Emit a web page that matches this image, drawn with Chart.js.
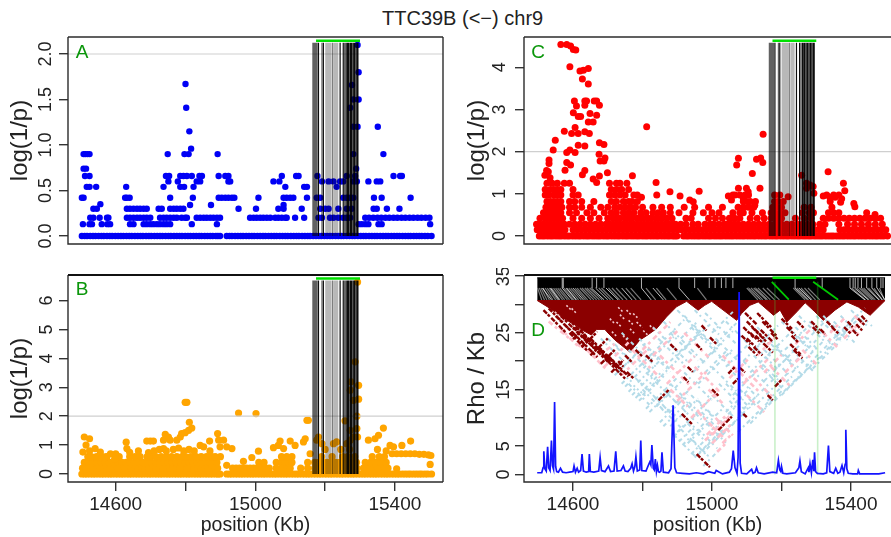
<!DOCTYPE html>
<html>
<head>
<meta charset="utf-8">
<title>TTC39B (<−) chr9</title>
<script src="https://cdn.jsdelivr.net/npm/chart.js@4/dist/chart.umd.min.js"></script>
<style>
html, body { margin: 0; padding: 0; background: #fff; width: 891px; height: 537px; overflow: hidden; }
canvas { position: absolute; filter: blur(0.4px); }
#title { position: absolute; left: 382px; top: 7px; font: 20px "Liberation Sans", Arial, sans-serif; color: #222; white-space: nowrap; }
</style>
</head>
<body>
<div id="title">TTC39B (&lt;−) chr9</div>
<canvas id="panelB" width="450" height="269" style="left:0;top:268px"></canvas>
<canvas id="panelD" width="441" height="269" style="left:450px;top:268px"></canvas>
<canvas id="panelA" width="450" height="226" style="left:0;top:30px"></canvas>
<canvas id="panelC" width="441" height="226" style="left:450px;top:30px"></canvas>
<script>
// tick labels
const xTicks = [14600, 14800, 15000, 15200, 15400];
const xLabelled = [14600, 15000, 15400];
const yTicksA = [0, 0.5, 1, 1.5, 2];
const yTicksB = [0, 1, 2, 3, 4, 5, 6];
const yTicksC = [0, 1, 2, 3, 4];
const yTicksD = [0, 5, 10, 15, 20, 25, 30, 35];
const yLabelledD = [0, 5, 15, 25, 35];
const threshold = 2;

// snp positions along the bottom row of A, B and C
const baseRow = [14503,14511,14518,14527,14535,14542,14551,14559,14566,14575,14583,14590,14599,14607,14615,14622,14631,14639,14646,14655,14663,14671,14678,14687,14695,14702,14711,14719,14727,14734,14743,14751,14758,14767,14775,14783,14790,14799,14807,14814,14823,14831,14839,14846,14855,14863,14871,14878,14887,14893,14899,14918,14926,14933,14942,14950,14958,14965,14974,14982,14990,14997,15006,15014,15022,15029,15038,15046,15054,15061,15070,15078,15086,15093,15102,15110,15118,15125,15134,15142,15150,15157,15166,15174,15182,15189,15198,15206,15214,15221,15230,15238,15246,15253,15262,15270,15278,15285,15294,15302,15310,15317,15326,15334,15342,15349,15358,15366,15374,15381,15390,15398,15406,15413,15422,15430,15438,15445,15454,15462,15470,15477,15486,15494,15505];

// panel A
const levelsA = [0.13, 0.2, 0.3, 0.42, 0.54, 0.6, 0.66, 0.74, 0.9];
const rowsA = [
  [14506,14525,14532,14560,14576,14584,14641,14651,14680,14689,14699,14708,14718,14727,14737,14746,14756,14818,14890,15296,15305,15315,15324,15353,15362,15501],
  [14527,14536,14554,14575,14579,14632,14641,14651,14661,14670,14680,14689,14699,14727,14737,14746,14756,14766,14775,14789,14799,14804,14832,14842,14852,14861,14871,14880,14890,14899,14985,14995,15004,15014,15023,15033,15043,15057,15066,15076,15086,15090,15114,15140,15181,15191,15214,15224,15238,15252,15262,15272,15315,15326,15338,15350,15361,15373,15384,15396,15407,15419,15430,15442,15453,15465,15476,15488,15499],
  [14536,14546,14632,14641,14651,14661,14670,14680,14689,14723,14732,14756,14766,14775,14785,14794,14952,15002,15066,15081,15133,15186,15200,15210,15238,15262,15276,15339,15348,15377,15413],
  [14503,14508,14627,14632,14640,14756,14821,14895,14904,14914,14923,14933,14940,15009,15081,15090,15100,15109,15148,15176,15186,15252,15262,15272,15281,15340,15362,15445],
  [14517,14525,14544,14630,14737,14785,14796,14823,15086,15140,15148,15233],
  [14751,14778,14832,14842,14923,14928,15052,15069,15191,15210,15224,15243,15252,15281,15291,15324,15348,15358],
  [14512,14525,14744,14753,14785,14794,14804,14818,14840,14847,14895,14914,14923,15076,15117,15124,15178,15262,15286,15396,15415,15420],
  [14508,14515,15289],
  [14508,14513,14519,14525,14749,14797,14809,14892,15281,15367]
];
const peaksA = [[14800,1.67],[14802,1.41],[14811,1.15],[14816,0.96],[15351,1.2],[15293,2.1],[15296,1.8],[15277,1.66],[15296,1.5],[15281,1.5],[15272,1.41],[15281,1.2],[15293,1.2],[14813,0.34],[14556,0.35],[15081,0.34],[14873,0.34]];

// panel B
const levelsB = [0.2, 0.4, 0.6];
const rowsB = [
  [14505,14515,14525,14535,14545,14555,14565,14575,14585,14595,14605,14615,14625,14635,14645,14655,14665,14675,14685,14695,14705,14715,14725,14735,14745,14755,14765,14775,14785,14795,14805,14815,14825,14835,14845,14855,14865,14875,14885,14892,14935,14945,14955,14965,14975,14985,14995,15005,15020,15030,15040,15060,15075,15090,15100,15130,15150,15170,15181,15192,15203,15214,15225,15236,15247,15258,15269,15280,15291,15310,15320,15330,15340,15350,15360,15370,15380],
  [14510,14522,14534,14546,14558,14570,14582,14594,14606,14618,14630,14642,14654,14666,14678,14690,14702,14714,14726,14738,14750,14762,14774,14786,14798,14810,14822,14834,14846,14858,14870,14882,14890,15010,15025,15060,15075,15085,15095,15105,15150,15170,15182,15194,15206,15218,15230,15242,15254,15266,15278,15290,15315,15330,15345,15360,15375],
  [14520,14530,14545,14560,14575,14610,14640,14655,14670,14690,14700,14715,14730,14745,14760,14775,14790,14800,14815,14830,14845,14860,14875,14885,14900,15075,15090,15105,15190,15220,15250,15265,15285,15335,15355,15370]
];
const upperB = [[14506,0.76],[14510,1.28],[14525,1.22],[14515,1],[14541,0.88],[14556,0.76],[14570,0.59],[14597,0.53],[14630,1.1],[14632,0.88],[14689,1.14],[14699,1.14],[14708,1.14],[14694,0.74],[14737,1.17],[14756,1.17],[14742,1.37],[14751,1.28],[14737,0.88],[14775,1.17],[14785,1.28],[14789,1.4],[14799,1.43],[14809,1.51],[14818,1.59],[14811,1.79],[14799,2.48],[14804,2.48],[14842,0.99],[14852,0.94],[14869,1.14],[14892,1.4],[14895,1.17],[14909,1.17],[14899,0.94],[14918,0.94],[14933,0.88],[14918,0.3],[14966,0.44],[14952,2.11],[15002,2.09],[15009,0.79],[14990,0.57],[15052,0.91],[15071,1.14],[15066,0.99],[15100,1.14],[15081,0.88],[15114,0.99],[15138,1.11],[15143,1.22],[15148,1.86],[15152,1.86],[15181,1.28],[15176,1.17],[15157,0.7],[15324,1.17],[15343,1.22],[15353,1.34],[15367,1.59],[15386,0.99],[15396,0.94],[15420,0.99],[15445,1.14],[15405,0.18],[15501,0.33],[15286,3.88],[15274,3.19],[15296,3.07],[15272,2.9],[15296,2.59],[15281,2.55],[15257,1.84],[15291,2],[15291,1.57],[15272,1.51],[15281,1.28],[15293,1.28],[15293,6.64],[15224,1.05],[15233,1.11],[15191,1.05],[15262,1.05],[15272,1.17],
  [14525,0.8],[14585,0.7],[14600,0.7],[14640,0.75],[14665,0.8],[14710,0.8],[14725,0.85],[14745,0.8],[14765,0.85],[14780,0.9],[14795,0.8],[14810,0.85],[14825,0.8],[14870,0.8],[15200,0.85],[15245,0.85],[15270,0.85],[15350,0.85],[15375,0.8],
  [15392,0.7],[15405,0.7],[15418,0.7],[15431,0.7],[15444,0.7],[15457,0.7],[15470,0.68],[15483,0.68],[15496,0.66],[15503,0.64]];

// panel C
const levelsC = [0.15, 0.28, 0.42, 0.55, 0.68, 0.82, 0.97, 1.1, 1.25];
const rowsC = [
  [14497,14507,14517,14527,14537,14547,14557,14567,14577,14600,14612,14624,14636,14648,14660,14672,14684,14696,14708,14720,14732,14744,14756,14768,14780,14792,14804,14816,14828,14840,14852,14864,14876,14888,14900,14912,14924,14936,14948,14960,14972,14984,14996,15008,15020,15032,15044,15056,15068,15080,15092,15104,15116,15128,15140,15152,15164,15176,15188,15200,15212,15224,15236,15248,15260,15272,15284,15296,15308,15320,15368,15380,15392,15404,15416,15428,15440,15452,15464,15476,15488,15500],
  [14495,14505,14515,14525,14535,14545,14555,14565,14575,14590,14605,14620,14635,14650,14665,14680,14695,14705,14715,14725,14735,14745,14755,14765,14775,14785,14795,14805,14815,14825,14835,14845,14855,14865,14875,14885,14895,14910,14925,14945,14960,14980,14995,15005,15020,15035,15045,15055,15065,15075,15090,15105,15120,15135,15150,15165,15180,15190,15200,15215,15230,15245,15260,15275,15290,15310,15325,15365,15390,15410,15430,15450,15470,15490],
  [14505,14520,14530,14540,14550,14560,14570,14600,14625,14650,14675,14700,14715,14725,14735,14750,14760,14770,14785,14800,14815,14825,14840,14855,14870,14885,14925,14940,14990,15010,15030,15050,15065,15080,15110,15130,15150,15170,15185,15200,15240,15265,15285,15320,15335,15350,15365,15380,15395,15410,15425,15440,15455,15470,15485],
  [14515,14525,14535,14545,14555,14565,14590,14610,14640,14660,14690,14710,14725,14745,14760,14775,14795,14810,14830,14845,14860,14880,14905,14945,14975,15000,15020,15060,15080,15090,15115,15145,15170,15180,15195,15210,15260,15280,15292,15335,15350,15365],
  [14522,14530,14540,14550,14560,14568,14590,14605,14625,14650,14680,14700,14720,14735,14750,14765,14780,14800,14830,14855,14880,14920,14950,14990,15030,15075,15090,15105,15120,15175,15185,15200,15265,15285,15345],
  [14525,14535,14545,14555,14565,14590,14605,14625,14660,14710,14725,14745,14760,14770,14785,15090,15100,15110,15125,15180,15190,15205,15340],
  [14520,14530,14545,14555,14565,14600,14615,14705,14720,14735,14750,14775,14785,15060,15080,15095,15105,15180,15195,15330,15350,15365],
  [14520,14535,14545,14555,14565,14600,14710,14725,14740,14760],
  [14525,14540,14555,14575,14590,14705,14725,14735,14755]
];
const upperC = [[14565,4.54],[14582,4.54],[14593,4.5],[14601,4.42],[14608,4.41],[14591,4.01],[14620,3.91],[14630,3.93],[14644,3.97],[14627,3.72],[14644,3.6],[14604,3.2],[14610,3.08],[14634,3.2],[14639,3.2],[14634,3.1],[14661,3.2],[14668,3.2],[14676,3.1],[14601,2.92],[14615,2.83],[14622,2.83],[14649,2.9],[14668,2.86],[14644,2.7],[14658,2.7],[14606,2.57],[14575,2.48],[14596,2.43],[14615,2.43],[14634,2.47],[14647,2.43],[14812,2.59],[15147,2.41],[14549,2.27],[14676,2.21],[14689,2.17],[14615,2.15],[14634,2.13],[14543,2.04],[14582,1.98],[14606,1.98],[14591,2.04],[14675,1.94],[14531,1.8],[14531,1.72],[14582,1.74],[14593,1.68],[14577,1.56],[14692,1.85],[14678,1.78],[14689,1.78],[15076,1.84],[15071,1.68],[15128,1.82],[15140,1.85],[15146,1.74],[15116,1.48],[15334,1.52],[15258,1.44],[14699,1.5],[14771,1.43],[14676,1.42],[14634,1.55],[14627,1.45],[14658,1.35],[14668,1.27],[14524,1.55],[14519,1.44],[14529,1.52],[14534,1.38],[14839,1.27],[15378,1.25],[15272,1.25],[15282,1.21],[15291,1.17],[15382,1.07],[15408,0.77],[15411,0.69],[15445,0.55],[15469,0.51],[15219,0.93],[14879,1.05],[14841,0.97],[14963,1.06],[15076,1.13],[15099,1.13],[15104,1.05],[15138,1.13],[15293,1.01],[15272,1.13],[14908,0.95],[14936,0.85],[14946,0.81],[14797,0.92],[15047,0.95],[15066,0.97],[15056,0.85],[15090,0.89],[15123,0.73],[15320,0.95],[15339,0.92],[15354,0.92],[15373,0.88],[15370,0.8]];

// recombination rate, panel D
const rhoX = [14497,14510,14514,14516,14519,14523,14527,14530,14534,14538,14541,14544,14547,14550,14553,14558,14564,14570,14580,14590,14600,14603,14607,14612,14616,14622,14626,14630,14638,14645,14647,14650,14660,14674,14678,14682,14692,14702,14708,14718,14723,14727,14738,14745,14750,14758,14766,14770,14774,14778,14781,14785,14792,14795,14798,14810,14818,14821,14824,14827,14831,14834,14837,14840,14843,14846,14849,14853,14856,14860,14875,14882,14888,14893,14898,14915,14935,14955,14975,14990,15008,15012,15030,15050,15056,15061,15066,15072,15075,15078,15081,15085,15100,15114,15118,15124,15128,15133,15150,15175,15186,15191,15195,15198,15200,15204,15215,15240,15250,15253,15257,15268,15277,15279,15282,15286,15290,15293,15295,15298,15303,15320,15330,15335,15339,15350,15356,15362,15368,15374,15379,15383,15385,15388,15392,15405,15419,15421,15425,15450,15480,15498];
const rhoY = [0.3,0.3,1.2,4.1,1,0.6,4.9,1.2,0.7,6,1.5,0.9,12.8,1.4,0.5,0.4,1.1,0.4,0.3,0.4,0.5,1.5,0.4,1.1,0.4,0.7,3.6,0.6,0.4,0.5,3.6,0.5,0.4,0.6,3,0.7,0.5,1.5,0.5,0.6,4.1,0.6,0.7,1.5,0.6,0.5,1.1,1.9,0.6,1.4,3.1,0.6,0.8,6,0.7,0.6,1.8,2.2,1.7,5.2,1.1,0.8,2.7,0.5,1.6,0.5,0.4,0.6,3.9,0.4,0.3,1,12.2,1.2,0.3,0.2,0.1,0.3,0.1,0.5,0.2,0.7,0.1,0.4,1,4.2,1.2,0.2,3,32.2,2,0.2,0.1,0.9,0.2,0.4,1.2,0.3,0.1,0.4,0.3,2.5,0.8,0.5,1.4,0.2,0.1,0.3,1.2,2.4,0.5,0.1,1.2,0.4,1.9,0.3,2.6,0.6,3.9,0.5,0.2,0.1,0.3,5.1,0.5,0.2,1.1,0.2,0.4,1.6,0.3,1.8,7.9,1,0.2,0.1,0.1,0.7,0.1,0.1,0.1,0.3];

// outline of the solid red part of the LD triangle
const ldSolidX = [14497,14534,14572,14605,14629,14653,14668,14692,14697,14721,14764,14792,14812,14840,14869,14898,14927,14960,14979,14999,15071,15085,15109,15133,15177,15196,15215,15244,15268,15296,15320,15354,15388,15421,15455,15498];
const ldSolidY = [30.7,29.3,27.6,26.4,25.4,24.6,25.6,25.6,25.2,23.7,21.6,23.7,24.5,25.7,27.8,29.6,30.55,29,29.85,30.55,27.2,28.4,29.85,30.45,28.1,29,26.9,28.7,30.3,28.7,27.2,29,30.45,29.55,28.1,30.7];
const ldTop = 30.8;

// LD cells, as diagonal runs [x1, y1, x2, y2]
const ldBlue = [[14720,17.5,14800,22.4],[14740,16,14830,21.5],[14760,14.6,14850,20.1],[14780,13.5,14860,18.4],[14800,14,14900,20.2],[14810,11.6,14900,17.1],[14840,12,14920,16.9],[14870,11,14960,16.5],[14880,8.5,14960,13.4],[14900,7.5,15000,13.6],[14915,5.2,14990,9.8],[14930,5.5,15030,11.6],[14960,3.5,15040,8.4],[14960,16,15060,22.1],[14880,20,14980,26.1],[14850,23,14920,27.3],[14910,24,14960,27.1],[14990,21,15060,25.3],[15020,9,15090,13.3],[15040,11,15110,15.3],[15060,14,15150,19.5],[15090,11.5,15190,17.6],[15110,9,15170,12.7],[15130,12.5,15220,18],[15150,16.5,15230,21.4],[15180,13,15250,17.3],[15230,18,15320,23.5],[15270,19,15340,23.3],[15290,18.7,15370,23.6],[15310,20.5,15390,25.4],[15120,22,15190,26.3],[15160,21,15240,25.9],[15210,22,15280,26.3],[15260,23,15330,27.3],[15350,24,15410,27.7],[15380,25,15430,28],[15000,25,15060,28.7],[15040,19,15110,23.3],
  [14700,24,14780,19.1],[14740,25,14840,18.9],[14790,24,14880,18.5],[14830,26,14930,19.9],[14860,27,14980,19.6],[14900,29,15010,22.2],[14940,26,15050,19.2],[14980,28.5,15070,23],[14780,17,14880,10.9],[14810,18,14900,12.5],[14860,15,14950,9.5],[14880,16,14980,9.9],[14920,18,15000,13.1],[14960,13,15030,8.7],[14910,8,14990,3.1],[14890,7,14950,3.3],[14930,9,14980,5.9],[15000,19,15070,14.7],[15020,16,15090,11.7],[15060,18,15130,13.7],[15050,13,15100,9.9],[15100,24,15190,18.5],[15130,26,15230,19.9],[15140,19,15210,14.7],[15170,23,15260,17.5],[15220,26,15290,21.7],[15250,28,15330,23.1],[15300,28,15370,23.7],[15350,27,15410,23.3],[15400,29,15450,26],[15430,28,15460,26.2],[15230,22,15290,18.3],
  [14730,18,14790,21.7],[14750,15.5,14810,19.2],[14770,14,14830,17.7],[14790,13,14870,17.9],[14820,11,14880,14.7],[14850,9.2,14930,14.1],[14860,8.5,14930,12.8],[14890,6.7,14970,11.6],[14905,5.8,14960,9.2],[14940,3.6,15000,7.3],[14950,3,15010,6.7],[14975,1.5,15020,4.3],[14985,4.5,15030,7.3],[15010,6,15060,9.1],[15030,7,15090,10.7],[15060,9,15120,12.7],[15075,7.5,15130,10.9],[15100,9,15180,13.9],[15140,11,15200,14.7],[15160,13,15230,17.3],[15200,14,15270,18.3],[15215,15,15290,19.6],[15250,17,15310,20.7],[15330,22,15400,26.3],[15360,24.5,15440,29.4],[14900,21,14960,24.7],[14920,22,14990,26.3],[14945,18,15020,22.6],[14980,18,15040,21.7],[15010,23,15070,26.7],[15090,20,15150,23.7],[15110,18,15170,21.7],[15190,19,15250,22.7],[15240,20,15300,23.7],[14820,20,14890,24.3],[14790,19,14850,22.7],
  [14680,24,14740,20.3],[14720,23,14770,19.9],[14760,22,14830,17.7],[14800,23,14880,18.1],[14845,24,14920,19.4],[14880,25,14960,20.1],[14920,28,15000,23.1],[14950,29,15020,24.7],[14760,16,14820,12.3],[14800,15,14860,11.3],[14830,14,14900,9.7],[14850,12,14910,8.3],[14900,14,14970,9.7],[14940,14,15000,10.3],[14970,11,15030,7.3],[14985,9,15040,5.6],[14945,6,14995,2.9],[14960,8,15015,4.6],[15000,14,15060,10.3],[15040,16,15110,11.7],[15080,15,15130,11.9],[15090,20,15160,15.7],[15120,21,15190,16.7],[15150,22,15220,17.7],[15190,22,15240,18.9],[15200,27,15270,22.7],[15240,26,15300,22.3],[15280,27,15340,23.3],[15320,28,15390,23.7],[15370,28,15420,24.9],[15010,24,15080,19.7],[15040,27,15110,22.7]];
const ldPink = [[14690,19,14760,23.3],[14740,17.5,14820,22.4],[14800,22,14880,26.9],[14830,21,14900,25.3],[14870,16,14950,20.9],[14900,13,14990,18.5],[14940,10,15020,14.9],[14980,6,15050,10.3],[14985,7,15040,10.4],[15000,5.5,15060,9.2],[15015,4,15040,5.5],[15050,17,15110,20.7],[15090,16,15160,20.3],[15150,18,15200,21.1],[15210,18,15260,21],[15240,23,15290,26],[15130,21,15190,24.7],[15380,24,15420,26.5],[15340,25,15380,27.5],
  [14640,22,14700,18.3],[14770,22,14850,17.1],[14850,21,14940,15.5],[14950,19,15020,14.7],[14960,11,15040,6.1],[15010,10,15060,6.9],[15030,21,15090,17.3],[15080,18,15140,14.3],[15170,19,15230,15.3],[15260,22,15300,19.5],[15320,25,15360,22.5],[15400,26,15430,24.2],[15410,28,15440,26.2],[14920,25,14990,20.7],
  [14530,27,14590,24],[14560,26,14620,22.3],[14610,23,14670,21],[14660,20.5,14720,23],[14880,15,14930,12],[14990,15,15030,12.6],[15000,7,15040,9.5],[15030,5.5,15060,7.3],[15100,14,15150,11],[15120,17,15180,13.3]];
const ldSpeck = [[14706,27.5,14720,26.6],[14730,29.5,14745,28.6],[14754,29,14770,28],[14773,28.4,14790,27.4],[14783,26.9,14800,25.9],[14764,25.7,14780,24.7],[14725,26.9,14740,26],[14802,25.4,14815,24.6],[14744,24.5,14758,23.6],[14581,29.85,14595,29],[14596,29.3,14612,28.3],[14548,28.7,14560,28],[14562,27.8,14578,26.8],[14821,26.3,14833,25.6],[14735,28.2,14748,27.4],[14760,27.2,14772,26.5],[14712,25.2,14725,24.4]];
const ldRed = [[14639,24,14706,19.9],[14668,22.5,14725,19],[14700,20,14750,16.9],[14600,26,14660,22.3],[14620,25.5,14680,21.8],[14590,25,14640,21.9],[14755,18.1,14775,16.9],[14846,13.1,14875,14.9],[14913,10.7,14942,8.9],[15018,7.8,15057,10.2],[14918,17.2,14932,16.3],[15090,10.7,15100,10.1],[15181,15.5,15200,16.7],[14956,3.6,14994,1.3],[14970,26.3,14984,25.4],[14955,23,14970,22],[14994,24.2,15013,23],[15047,17.8,15066,19],[14780,22,14800,20.8],[14730,20,14745,19],[15100,27,15150,24],[15115,26,15160,23.2],[15110,25,15135,23.5],[15130,28.5,15170,26],[15145,27,15185,24.5],[15100,24,15125,22.5],[15170,25,15190,23.8],[15229,24.5,15248,23.3],[15245,27,15265,25.8],[15285,27,15310,25.5],[15312,25.6,15325,24.8],[15380,26,15400,24.8],[15415,26.5,15432,25.4],[15430,28,15445,27],[15080,18.8,15095,18],
  [14515,29,14580,25],[14530,29.3,14600,25],[14550,28,14620,23.7],[14565,28,14640,23.4],[14585,27.5,14660,22.9],[14600,25,14670,20.7],[14625,24.5,14700,19.9],[14650,24,14720,19.7],[14680,22,14745,18],[14700,21,14760,17.3],[14600,23.9,14650,27],[14625,22.4,14670,25.2],[14650,21,14700,24],[14680,19.5,14720,22],[14710,18,14745,20.2],
  [15095,28.5,15130,26.4],[15090,26,15120,24.2],[15085,24.5,15110,23],[15125,24.5,15150,23],[15140,25.5,15175,23.4],[15150,23,15175,21.5],[15120,22.5,15145,21],[15105,22.5,15130,21],[15200,27.5,15230,25.7],[15215,26,15240,24.5],[15225,23,15255,21.2],[15235,22,15260,20.5],[15290,26,15310,24.8],[15330,27,15350,25.8],[15345,26,15365,24.8],[15390,27,15405,26],[15405,25.5,15420,24.5],[15420,27.5,15440,26.3],[14810,21,14830,19.8],[14750,21,14770,19.8],[14880,23,14900,21.8],[14930,19,14945,18.1],[15000,15,15020,13.8],[15060,16,15075,16.9],[15160,14,15175,13.1]];

// snp map above the triangle
const mapTop = 34.7;
const mapMid = 32.9;
const mapEnds = [14497, 15498];
const mapGaps = [14569,14572,14655,14668,14689,14797,14905,14950,14992,15009,15027,15040,15060,15239,15317,15397,15406,15412,15420,15430,15445,15460,15474,15486,15492];
const fanGray = [[14498,14510],[14503,14518],[14508,14525],[14514,14532],[14520,14542],[14526,14550],[14532,14556],[14538,14562],[14544,14570],[14550,14576],[14556,14584],[14562,14590],[14574,14602],[14580,14608],[14588,14616],[14594,14624],[14606,14636],[14612,14642],[14620,14652],[14626,14660],[14634,14668],[14640,14676],[14648,14684],[14674,14708],[14682,14716],[14702,14734],[14712,14744],[14724,14756],[14752,14782],[14766,14796],[14810,14838],[14840,14868],[14870,14898],[14958,14984],[15100,15132],[15112,15146],[15120,15156],[15132,15168],[15146,15180],[15158,15194],[15234,15268],[15244,15278],[15256,15288],[15266,15298],[15276,15310],[15402,15442],[15416,15452],[15424,15460],[15436,15470],[15450,15482],[15466,15490],[15482,15496]];
const fanWhite = [[14512,14538],[14535,14560],[14569,14598],[14582,14610],[14600,14630],[14653,14690],[14665,14700],[14695,14730],[14740,14770],[14797,14825],[14830,14860],[14905,14935],[15105,15140],[15125,15160],[15239,15275],[15250,15285],[15397,15440],[15410,15450],[15430,15465],[15445,15480],[15460,15490],[15475,15498]];

// gene region: tag snps and green markers
const bandLight = [15202,15205,15208,15211,15214,15217,15227,15230,15233,15236];
const bandMid = [15165,15168,15171,15174,15177,15191,15222,15256,15270,15279,15288];
const bandDark = [15181,15195,15243,15252,15260,15264,15267,15273,15276,15282,15285,15291,15294];
const geneStart = 15174;
const geneEnd = 15300;
const geneLinks = [[15172,34,15221,30.85],[15291,34,15363,30.85]];
const genePale = [15181,15304];

function rowsToPoints(levels, rows, extra) {
    const pts = baseRow.map(x => ({x: x, y: 0}));
    rows.forEach((row, i) => row.forEach(x => pts.push({x: x, y: levels[i]})));
    extra.forEach(p => pts.push({x: p[0], y: p[1]}));
    return pts;
}

function segments(list) {
    const pts = [];
    list.forEach(s => {
        pts.push({x: s[0], y: s[1]}, {x: s[2], y: s[3]}, {x: s[2], y: null});
    });
    return pts;
}

function verticals(xs, lo, hi) {
    return segments(xs.map(x => [x, lo, x, hi]));
}

function lineSet(data, color, width, extra) {
    return Object.assign({data: data, showLine: true, pointRadius: 0, borderColor: color, borderWidth: width, spanGaps: false}, extra || {});
}

function bandSets(top) {
    return [
        lineSet(segments([[geneStart, top * 1.01, geneEnd, top * 1.01]]), '#00e000', 2.5),
        lineSet(verticals(bandDark, 0, top), 'rgba(0,0,0,0.95)', 1.2),
        lineSet(verticals(bandMid, 0, top), 'rgba(0,0,0,0.62)', 1.2),
        lineSet(verticals(bandLight, 0, top), 'rgba(0,0,0,0.28)', 1.2)
    ];
}

const panelBox = {
    id: 'panelBox',
    afterDatasetsDraw(chart, args, opts) {
        const a = chart.chartArea;
        const ctx = chart.ctx;
        ctx.save();
        ctx.strokeStyle = '#2b2b2b';
        ctx.lineWidth = 1.4;
        ctx.beginPath();
        ctx.moveTo(a.right, a.bottom);
        ctx.lineTo(a.left, a.bottom);
        ctx.lineTo(a.left, a.top);
        ctx.stroke();
        if (!opts.openRight) {
            ctx.beginPath();
            ctx.moveTo(a.right, a.bottom);
            ctx.lineTo(a.right, a.top);
            ctx.stroke();
        }
        ctx.lineWidth = opts.topWidth;
        ctx.strokeStyle = opts.topWidth > 1.5 ? '#111' : '#2b2b2b';
        ctx.beginPath();
        ctx.moveTo(a.left, a.top);
        ctx.lineTo(a.right, a.top);
        ctx.stroke();
        ctx.fillStyle = '#0a960a';
        ctx.font = '19px "Liberation Sans", Arial, sans-serif';
        ctx.textAlign = 'center';
        ctx.textBaseline = 'middle';
        ctx.fillText(opts.letter, a.left + 14, a.top + opts.letterY);
        ctx.restore();
    }
};

function clearPadding(s) {
    s.paddingTop = 0;
    s.paddingBottom = 0;
    s.paddingLeft = 0;
    s.paddingRight = 0;
}

function makePanel(id, cfg) {
    const font = '"Liberation Sans", Arial, sans-serif';
    return new Chart(document.getElementById(id), {
        type: 'scatter',
        plugins: [panelBox],
        data: {datasets: cfg.datasets},
        options: {
            responsive: false,
            animation: false,
            events: [],
            layout: {padding: cfg.padding, autoPadding: false},
            plugins: {
                legend: {display: false},
                tooltip: {enabled: false},
                panelBox: {letter: cfg.letter, letterY: cfg.letterY, openRight: cfg.openRight, topWidth: cfg.topWidth}
            },
            scales: {
                x: {
                    type: 'linear',
                    display: cfg.showX,
                    min: cfg.xMin,
                    max: cfg.xMax,
                    afterBuildTicks: s => { s.ticks = xTicks.map(v => ({value: v})); },
                    afterFit: s => { s.height = cfg.showX ? 55 : 0; clearPadding(s); },
                    border: {display: false},
                    grid: {drawOnChartArea: false, drawTicks: true, tickLength: 9, tickColor: '#333', lineWidth: 1.4},
                    ticks: {
                        autoSkip: false, maxRotation: 0, minRotation: 0, padding: 2, color: '#222',
                        font: {family: font, size: 19},
                        callback: v => xLabelled.includes(v) ? String(v) : ''
                    },
                    title: {display: true, text: 'position (Kb)', color: '#222', font: {family: font, size: 19.5}, padding: {top: 0, bottom: 0}}
                },
                y: {
                    min: cfg.yMin,
                    max: cfg.yMax,
                    afterBuildTicks: s => { s.ticks = cfg.yTicks.map(v => ({value: v})); },
                    afterFit: s => { s.width = cfg.axisWidth; clearPadding(s); },
                    border: {display: false},
                    grid: {drawOnChartArea: false, drawTicks: true, tickLength: 9, tickColor: '#333', lineWidth: 1.4},
                    ticks: {
                        autoSkip: false, minRotation: 90, maxRotation: 90, crossAlign: 'center', padding: cfg.tickPad, color: '#222',
                        font: {family: font, size: 18},
                        callback: cfg.yLabel
                    },
                    title: {display: true, text: cfg.yTitle, color: '#222', font: {family: font, size: 24}, padding: {top: cfg.titlePad, bottom: 0}}
                }
            }
        }
    });
}

const dotsA = {data: rowsToPoints(levelsA, rowsA, peaksA), backgroundColor: '#0000f5', pointRadius: 3.2, borderWidth: 0, pointBorderWidth: 0};
const dotsB = {data: rowsToPoints(levelsB, rowsB, upperB), backgroundColor: '#ffa500', pointRadius: 3.6, borderWidth: 0, pointBorderWidth: 0};
const dotsC = {data: rowsToPoints(levelsC, rowsC, upperC), backgroundColor: '#ff0000', pointRadius: 3.5, borderWidth: 0, pointBorderWidth: 0};

const xLeft = {xMin: 14463.3, xMax: 15537.8, padding: {top: 7, right: 7, bottom: 12, left: 0}, openRight: false};
const xRight = {xMin: 14459, xMax: 15515, padding: {top: 7, right: 0, bottom: 12, left: 0}, openRight: true};
const hline = lim => lineSet(segments([[lim[0], threshold, lim[1], threshold]]), '#cfcfcf', 1.2);

makePanel('panelA', Object.assign({}, xLeft, {
    datasets: [...bandSets(2.125), dotsA, hline([14463.3, 15537.8])],
    letter: 'A', letterY: 16, topWidth: 1.4, showX: false,
    yMin: -0.088, yMax: 2.187, yTicks: yTicksA, axisWidth: 68, tickPad: 0, titlePad: 6, yTitle: 'log(1/p)',
    yLabel: v => v.toFixed(1)
}));

makePanel('panelB', Object.assign({}, xLeft, {
    padding: {top: 7, right: 7, bottom: 0, left: 0},
    datasets: [...bandSets(6.7), hline([14463.3, 15537.8]), dotsB],
    letter: 'B', letterY: 15, topWidth: 2.2, showX: true,
    yMin: -0.277, yMax: 6.886, yTicks: yTicksB, axisWidth: 68, tickPad: 7, titlePad: 6, yTitle: 'log(1/p)',
    yLabel: v => String(v)
}));

makePanel('panelC', Object.assign({}, xRight, {
    datasets: [...bandSets(4.58), dotsC, hline([14459, 15515])],
    letter: 'C', letterY: 16, topWidth: 1.4, showX: false,
    yMin: -0.19, yMax: 4.716, yTicks: yTicksC, axisWidth: 74, tickPad: 10, titlePad: 13, yTitle: 'log(1/p)',
    yLabel: v => String(v)
}));

makePanel('panelD', Object.assign({}, xRight, {
    padding: {top: 7, right: 0, bottom: 0, left: 0},
    datasets: [
        lineSet(rhoX.map((x, i) => ({x: x, y: rhoY[i]})), '#1414ff', 1.7),
        lineSet(segments([[geneStart, mapTop, geneEnd, mapTop]]), '#00e000', 2.5),
        lineSet(segments(geneLinks), '#00c800', 1.8),
        lineSet(verticals(genePale, 0, 34), 'rgba(60,200,60,0.28)', 1.6),
        lineSet(segments(ldRed), '#8b0000', 2.4, {borderDash: [5, 1, 3, 2]}),
        lineSet(segments(ldSpeck), '#f3c9cf', 1.6, {borderDash: [2, 2]}),
        lineSet(segments(ldPink), '#ffc0cb', 2.6, {borderDash: [5, 3, 3, 4]}),
        lineSet(segments(ldBlue), '#b4dbe8', 2, {borderDash: [4, 3, 2, 4]}),
        lineSet(ldSolidX.map((x, i) => ({x: x, y: ldSolidY[i]})), '#8b0000', 1, {fill: {value: ldTop}, backgroundColor: '#8b0000'}),
        lineSet(segments(fanWhite.map(f => [f[0], mapMid, f[1], ldTop])), 'rgba(255,255,255,0.75)', 1),
        lineSet(segments(fanGray.map(f => [f[0], mapMid, f[1], ldTop])), 'rgba(150,150,150,0.8)', 1.2),
        lineSet(verticals(mapGaps, mapMid, mapTop), 'rgba(255,255,255,0.7)', 1),
        lineSet(mapEnds.map(x => ({x: x, y: mapTop})), '#000', 1, {fill: {value: ldTop}, backgroundColor: '#000'})
    ],
    letter: 'D', letterY: 56, topWidth: 2.2, showX: true,
    yMin: -1.33, yMax: 35.2, yTicks: yTicksD, axisWidth: 74, tickPad: 1, titlePad: 13, yTitle: 'Rho / Kb',
    yLabel: v => yLabelledD.includes(v) ? String(v) : ''
}));
</script>
</body>
</html>
